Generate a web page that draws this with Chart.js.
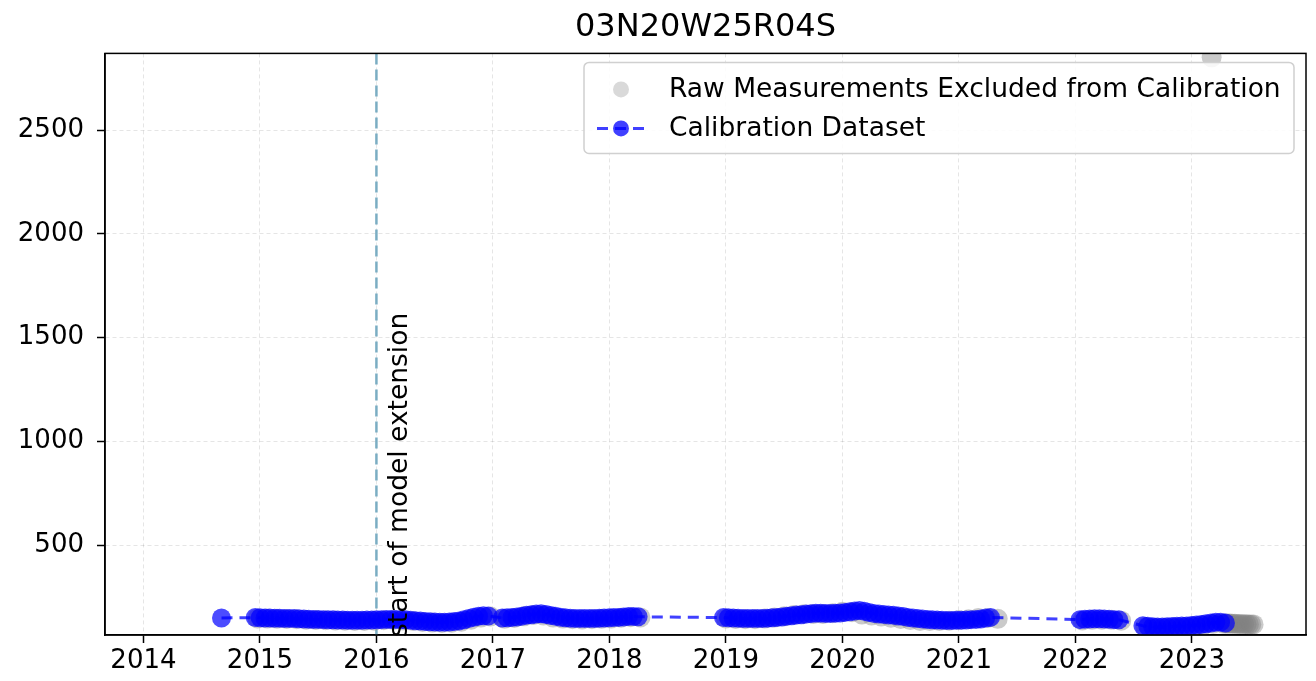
<!DOCTYPE html>
<html>
<head>
<meta charset="utf-8">
<script src="https://cdn.jsdelivr.net/npm/chart.js@4.4.0/dist/chart.umd.min.js"></script>
<style>
  html, body { margin: 0; padding: 0; background: #fff; }
  #wrap { width: 1316px; height: 681px; }
</style>
</head>
<body>
<div id="wrap"><canvas id="chart" width="1316" height="681"></canvas></div>
<script>
// DATA (x in decimal years)
const chartTitle = '03N20W25R04S';
const xTicks = [2014, 2015, 2016, 2017, 2018, 2019, 2020, 2021, 2022, 2023];
const yTicks = [500, 1000, 1500, 2000, 2500];
const extensionStart = 2016.0;
const extensionLabel = 'start of model extension';

// calibration dataset: sampled every half month, one run per block
const calStep = 1 / 24;
const calStarts = [2014.67, 2014.96, 2017.08, 2018.98, 2022.04, 2022.58];
const cal0 = [148];
const cal1 = [150, 149, 148, 148, 147, 147, 146, 146, 145, 144, 143, 142, 141, 141, 140, 139, 139,
  138, 138, 137, 137, 137, 137, 138, 138, 139, 140, 141, 141, 141, 140, 139, 137, 135, 133, 131,
  130, 129, 128, 128, 129, 131, 134, 139, 146, 152, 157, 159, 158];
const cal2 = [148, 149, 150, 153, 157, 161, 164, 167, 168, 165, 160, 156, 152, 149, 147, 146, 145,
  145, 145, 146, 147, 148, 149, 150, 151, 153, 155, 155, 154];
const cal3 = [150, 149, 148, 147, 146, 146, 145, 145, 146, 147, 149, 151, 153, 156, 159, 162, 164,
  167, 169, 171, 171, 170, 170, 171, 172, 175, 178, 182, 184, 180, 174, 170, 167, 165, 163, 161,
  158, 155, 151, 148, 145, 143, 141, 139, 138, 137, 136, 136, 137, 137, 138, 140, 141, 143, 148, 151];
const cal4 = [140, 142, 143, 144, 144, 143, 142, 140, 139];
const cal5 = [111, 108, 106, 105, 105, 106, 107, 108, 109, 110, 112, 114, 117, 120, 124, 127, 128, 124];
const calBlocks = [cal0, cal1, cal2, cal3, cal4, cal5];

// raw measurements excluded from calibration: monthly blocks, dense tail, one outlier
const rawStep = 1 / 12;
const rawStarts = [2014.98, 2017.10, 2019.00, 2022.06, 2022.60];
const raw0 = [146, 145, 144, 143, 142, 140, 138, 137, 136, 135, 134, 134, 135, 137, 138, 136, 133,
  129, 126, 124, 125, 130, 140, 150, 155];
const raw1 = [144, 148, 156, 163, 160, 150, 145, 142, 141, 142, 144, 146, 149, 152, 151];
const raw2 = [146, 143, 142, 142, 145, 150, 156, 162, 166, 167, 167, 171, 178, 176, 165, 160, 155,
  149, 143, 138, 134, 133, 133, 135, 138, 142, 148, 148, 144];
const raw3 = [136, 139, 140, 139, 135];
const raw4 = [104, 101, 101, 103, 105, 108, 113, 120, 122];
const rawBlocks = [raw0, raw1, raw2, raw3, raw4];
const rawTailStart = 2023.29;
const rawTailStep = 0.02;
const rawTail = [122, 121, 121, 120, 120, 119, 119, 118, 118, 118, 117, 117, 117];
const rawOutlierX = [2023.17];
const rawOutlierY = [2852];

const FONT = 'DejaVu Sans';

function blocksToPoints(starts, blocks, step) {
  const pts = [];
  blocks.forEach((vals, b) => {
    vals.forEach((v, i) => pts.push({ x: starts[b] + i * step, y: v }));
  });
  return pts;
}

const calPoints = blocksToPoints(calStarts, calBlocks, calStep);
const rawPoints = blocksToPoints(rawStarts, rawBlocks, rawStep)
  .concat(rawTail.map((v, i) => ({ x: rawTailStart + i * rawTailStep, y: v })))
  .concat(rawOutlierX.map((x, i) => ({ x: x, y: rawOutlierY[i] })));

// frame, extension line + label, legend
const decorPlugin = {
  id: 'decor',
  beforeDatasetsDraw(chart) {
    const ctx = chart.ctx;
    const area = chart.chartArea;
    const px = chart.scales.x.getPixelForValue(extensionStart);
    ctx.save();
    ctx.strokeStyle = 'rgba(110,165,190,0.9)';
    ctx.lineWidth = 2.5;
    ctx.setLineDash([11, 5]);
    ctx.beginPath();
    ctx.moveTo(px, area.top);
    ctx.lineTo(px, area.bottom);
    ctx.stroke();
    ctx.restore();
  },
  afterDatasetsDraw(chart) {
    const ctx = chart.ctx;
    const area = chart.chartArea;
    const px = chart.scales.x.getPixelForValue(extensionStart);

    // rotated label
    ctx.save();
    ctx.translate(px + 24, area.bottom + 2);
    ctx.rotate(-Math.PI / 2);
    ctx.font = '26.5px "' + FONT + '"';
    ctx.fillStyle = '#000';
    ctx.textAlign = 'left';
    ctx.textBaseline = 'middle';
    ctx.fillText(extensionLabel, 0, 0);
    ctx.restore();

    // legend box
    const ds = chart.data.datasets;
    const bx = area.right - 722, by = area.top + 9, bw = 710, bh = 91;
    ctx.save();
    ctx.beginPath();
    ctx.roundRect(bx, by, bw, bh, 5);
    ctx.fillStyle = 'rgba(255,255,255,0.85)';
    ctx.fill();
    ctx.strokeStyle = '#d0d0d0';
    ctx.lineWidth = 1.5;
    ctx.stroke();

    ctx.font = '26.5px "' + FONT + '"';
    ctx.textAlign = 'left';
    ctx.textBaseline = 'middle';
    const mx = bx + 37, tx = bx + 85;
    const row1 = by + 27, row2 = by + 66;

    ctx.beginPath();
    ctx.arc(mx, row1, 8, 0, Math.PI * 2);
    ctx.fillStyle = 'rgba(128,128,128,0.3)';
    ctx.fill();
    ctx.fillStyle = '#000';
    ctx.fillText(ds[1].label, tx, row1 + 1);

    ctx.strokeStyle = 'rgba(0,0,255,0.75)';
    ctx.lineWidth = 3;
    ctx.setLineDash([11, 7]);
    ctx.beginPath();
    ctx.moveTo(mx - 24, row2);
    ctx.lineTo(mx + 26, row2);
    ctx.stroke();
    ctx.setLineDash([]);
    ctx.beginPath();
    ctx.arc(mx, row2, 8, 0, Math.PI * 2);
    ctx.fillStyle = 'rgba(0,0,255,0.75)';
    ctx.fill();
    ctx.fillStyle = '#000';
    ctx.fillText(ds[0].label, tx, row2 + 1);
    ctx.restore();

    // plot frame
    ctx.save();
    ctx.strokeStyle = '#000';
    ctx.lineWidth = 1.5;
    ctx.strokeRect(area.left, area.top, area.right - area.left, area.bottom - area.top);
    ctx.restore();
  }
};

const ctx = document.getElementById('chart').getContext('2d');
const chart = new Chart(ctx, {
  type: 'line',
  data: {
    datasets: [
      {
        label: 'Calibration Dataset',
        data: calPoints,
        borderColor: 'rgba(0,0,255,0.75)',
        backgroundColor: 'rgba(0,0,255,0.7)',
        borderWidth: 3,
        borderDash: [11, 7],
        pointRadius: 9.5,
        pointBorderWidth: 0,
        pointBackgroundColor: 'rgba(0,0,255,0.7)',
        tension: 0,
        fill: false
      },
      {
        label: 'Raw Measurements Excluded from Calibration',
        data: rawPoints,
        showLine: false,
        pointRadius: 10,
        pointBorderWidth: 0,
        pointBackgroundColor: 'rgba(128,128,128,0.42)',
        backgroundColor: 'rgba(128,128,128,0.42)'
      }
    ]
  },
  options: {
    responsive: false,
    animation: false,
    devicePixelRatio: 1,
    layout: { padding: { left: 0, right: 10, top: 0, bottom: 0 } },
    scales: {
      x: {
        type: 'linear',
        min: 2013.67,
        max: 2023.98,
        afterBuildTicks: (axis) => { axis.ticks = xTicks.map(v => ({ value: v })); },
        afterFit: (scale) => { scale.height = 46; },
        ticks: {
          font: { family: FONT, size: 26 },
          color: '#000',
          padding: 3,
          maxRotation: 0,
          autoSkip: false,
          callback: (v) => String(v)
        },
        grid: {
          color: 'rgba(0,0,0,0.1)',
          lineWidth: 1,
          tickColor: '#000',
          tickLength: 8,
          tickWidth: 1.5,
          tickBorderDash: []
        },
        border: { display: true, color: '#000', width: 1.5, dash: [4, 3] }
      },
      y: {
        type: 'linear',
        min: 66,
        max: 2871,
        afterBuildTicks: (axis) => { axis.ticks = yTicks.map(v => ({ value: v })); },
        afterFit: (scale) => { scale.width = 105; },
        ticks: {
          font: { family: FONT, size: 26 },
          color: '#000',
          padding: 13,
          callback: (v) => String(v)
        },
        grid: {
          color: 'rgba(0,0,0,0.1)',
          lineWidth: 1,
          tickColor: '#000',
          tickLength: 8,
          tickWidth: 1.5,
          tickBorderDash: []
        },
        border: { display: true, color: '#000', width: 1.5, dash: [4, 3] }
      }
    },
    plugins: {
      legend: { display: false },
      tooltip: { enabled: false },
      title: {
        display: true,
        fullSize: false,
        text: chartTitle,
        color: '#000',
        font: { family: FONT, size: 32, weight: 'normal' },
        padding: { top: 8, bottom: 7 }
      }
    }
  },
  plugins: [decorPlugin]
});
</script>
</body>
</html>
